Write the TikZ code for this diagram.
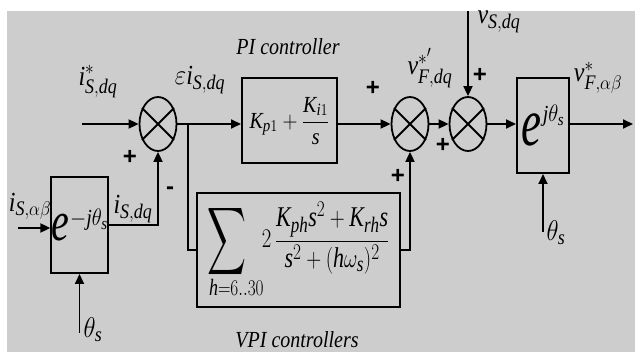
\documentclass[tikz,border=0pt]{standalone}
\usepackage{amsmath}
\usepackage{graphicx}
\usepackage{fontspec}
\setmainfont{Liberation Serif}
\newfontfamily\signfont{Liberation Sans}
\usetikzlibrary{arrows.meta,shapes.geometric}
\definecolor{bggray}{HTML}{CDCDCD}
\DeclareMathSizes{24}{24}{18}{14}
\DeclareMathSizes{22}{22}{17}{13}
\DeclareMathSizes{20}{20}{15}{12}
\newcommand\tall[1]{\scalebox{1}[1.15]{#1}}
\newcommand\mi[1]{\mathit{#1}}
\begin{document}
\begin{tikzpicture}[x=1pt,y=-1pt,
  line width=1.8pt,
  arr/.style={-{Triangle[length=10pt,width=9pt]}},
  sumnode/.style={draw,ellipse,minimum width=37pt,minimum height=54pt,inner sep=0pt},
  blk/.style={draw,rectangle,inner sep=0pt,line width=2pt,font=\fontsize{20}{22}\selectfont},
  lbl/.style={font=\fontsize{24}{26}\selectfont,inner sep=0pt},
  ttl/.style={font=\itshape\fontsize{20}{22}\selectfont,inner sep=0pt},
  sgn/.style={font=\signfont\bfseries\fontsize{24}{24}\selectfont,inner sep=0pt},
]
\useasboundingbox (0,0) rectangle (635,352);
\fill[white] (0,0) rectangle (635,352);
\fill[bggray] (7,11) rectangle (635,352);

% summing junctions
\node[sumnode] (s1) at (158,124) {};
\node[sumnode] (s2) at (410,124) {};
\node[sumnode] (s3) at (468,124) {};
\foreach \s in {s1,s2,s3}{
  \draw (\s.45) -- (\s.225) (\s.135) -- (\s.315);
}

% blocks
\node[blk,minimum width=95pt,minimum height=85pt] (pi) at (289.5,121)
  {\tall{$\mi{K}_{\mi{p}1}+\dfrac{\mi{K}_{\mi{i}1}}{\mi{s}}$}};
\node[blk,minimum width=52pt,minimum height=95pt] (er) at (543,125.5)
  {\scalebox{1}[1.5]{\fontsize{45}{45}\selectfont\itshape e}\kern1pt\raisebox{24pt}{\tall{$\mi{j}\theta_{\mi{s}}$}}};
\node[blk,minimum width=53pt,minimum height=96pt] (el) at (79.5,225)
  {\scalebox{1}[1.4]{\fontsize{40}{40}\selectfont\itshape e}\kern1pt\raisebox{15pt}{\tall{$-\mi{j}\theta_{\mi{s}}$}}};
\node[blk,minimum width=203pt,minimum height=114pt,font=\fontsize{22}{24}\selectfont] (vpi) at (298.5,250)
  {\scalebox{1}[1.3]{$\displaystyle\mathop{\vcenter{\hbox{\scalebox{1.3}[1.75]{$\displaystyle\sum$}}}}\limits_{\smash{\makebox[36pt][l]{\fontsize{18}{20}\selectfont$\mi{h}{=}6..30$}}}\hspace{12pt}2\,\frac{\mi{K}_{\mi{ph}}\mi{s}^2+\mi{K}_{\mi{rh}}\mi{s}}{\mi{s}^2+(\mi{h}\omega_{\mi{s}})^2}$}};

% coordinates
\coordinate (br) at (188,124);
\coordinate (inI) at (82,124);
\coordinate (inA) at (18,228);
\coordinate (vS) at (468,11);
\coordinate (out) at (633,124);
\coordinate (thL) at (79.5,333);
\coordinate (thR) at (543,232);

% connectors
\draw[arr] (inI) -- (s1.west);
\draw[arr] (s1.east) -- (s1.east -| pi.west);
\draw (br) |- (vpi.west);
\draw[arr] (pi.east |- s2.west) -- (s2.west);
\draw[arr] (vpi.east) -| (s2.south);
\draw[arr] (s2.east) -- (s3.west);
\draw[arr] (vS) -- (s3.north);
\draw[arr] (s3.east) -- (s3.east -| er.west);
\draw[arr] (er.east |- out) -- (out);
\draw[arr] (thR) -- (er.south);
\draw[arr] (inA) -- (inA -| el.west);
\draw[arr] (el.east) -| (s1.south);
\draw[arr] (thL) -- (el.south);

% labels
\node[ttl] (tpi) at (288,47) {\tall{PI controller}};
\node[ttl] (tvpi) at (297,340) {\tall{VPI controllers}};
\node[lbl] (l1) at (98,82) {\tall{$\mi{i}^*_{\mi{S,dq}}$}};
\node[lbl] (l2) at (200,80) {\tall{$\varepsilon \mi{i}_{\mi{S,dq}}$}};
\node[lbl] (l3) at (430,68) {\tall{$\mi{v}^{*'}_{\mi{F,dq}}$}};
\node[lbl] (l4) at (499,22) {\tall{$\mi{v}_{\mi{S,dq}}$}};
\node[lbl] (l5) at (598,78) {\tall{$\mi{v}^{*}_{\mi{F},\alpha\beta}$}};
\node[lbl] (l6) at (30,206) {\tall{$\mi{i}_{\mi{S},\alpha\beta}$}};
\node[lbl] (l7) at (133,209) {\tall{$\mi{i}_{\mi{S,dq}}$}};
\node[lbl] (l8) at (93,330) {\tall{$\theta_{\mi{s}}$}};
\node[lbl] (l9) at (556,233) {\tall{$\theta_{\mi{s}}$}};

% signs
\node[sgn] (p1) at (130,157) {+};
\node[sgn] (m1) at (170,191) {-};
\node[sgn] (p2) at (373,88) {+};
\node[sgn] (p3) at (398,176) {+};
\node[sgn] (p4) at (443,145) {+};
\node[sgn] (p5) at (480,75) {+};
\end{tikzpicture}
\end{document}
